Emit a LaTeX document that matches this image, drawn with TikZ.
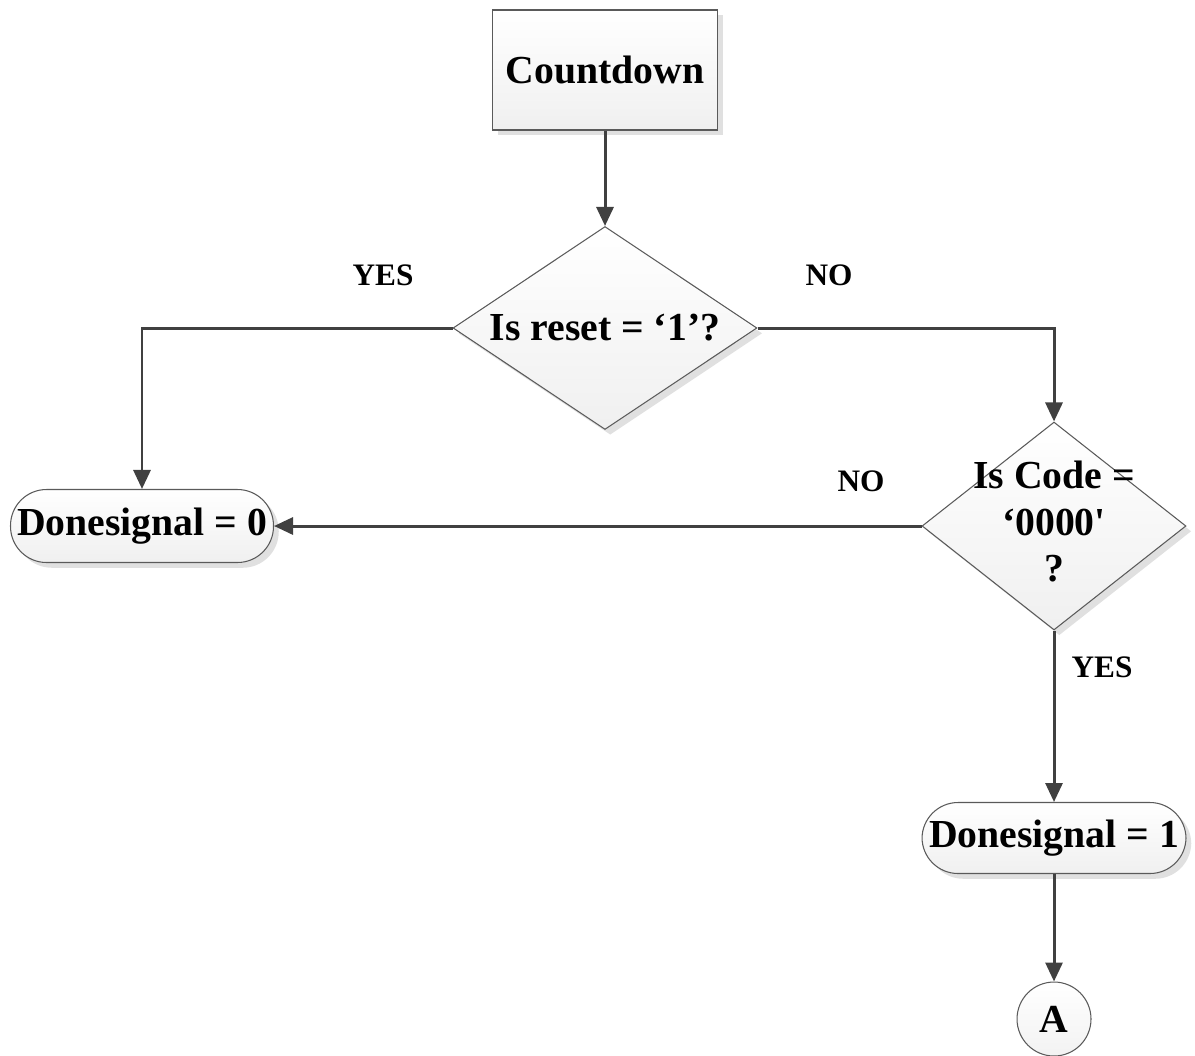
\documentclass[tikz,border=0pt]{standalone}
\usepackage{fontspec}
\setmainfont{Liberation Serif}
\usetikzlibrary{arrows.meta,shapes.geometric,shadows}
\definecolor{linegray}{HTML}{404040}
\definecolor{edgegray}{HTML}{5A5A5A}
\newcommand{\nowidth}[1]{\makebox[0pt]{#1}}
\begin{document}
\begin{tikzpicture}[x=0.02cm,y=-0.02cm,>={Triangle[length=0.38cm,width=0.34cm]},
	flow/.style={draw=linegray,line width=1.7pt,->},
	box/.style={draw=edgegray,line width=0.6pt,top color=white,bottom color=gray!12,inner sep=0pt,
		drop shadow={shadow xshift=3pt,shadow yshift=-3pt,fill=gray!40,opacity=0.6},
		font=\fontsize{22.6}{26.5}\selectfont\bfseries},
	decision/.style={box,diamond},
	terminal/.style={box,rounded corners=0.72cm},
	lbl/.style={font=\fontsize{17.8}{20}\selectfont\bfseries}]
		\useasboundingbox (0,0) rectangle (1195,1055);
		% nodes
		\node[box,minimum width=4.5cm,minimum height=2.4cm] (count) at (605,70) {Countdown};
		\node[decision,minimum width=6.08cm,minimum height=4.06cm] (reset) at (605,328) {\nowidth{Is reset = ‘1’?}};
		\node[decision,minimum width=5.28cm,minimum height=4.16cm] (code) at (1054,526)
			{\nowidth{\begin{tabular}{@{}c@{}}Is Code =\\ ‘0000\textquotesingle\\ ?\end{tabular}}};
		\node[terminal,minimum width=5.26cm,minimum height=1.46cm] (done0) at (142,526) {Donesignal = 0};
		\node[terminal,minimum width=5.28cm,minimum height=1.42cm] (done1) at (1054,838) {Donesignal = 1};
		\node[circle,draw=edgegray,line width=0.6pt,top color=white,bottom color=gray!10,minimum size=1.48cm,inner sep=0pt,
			font=\fontsize{22.6}{26.5}\selectfont\bfseries] (conA) at (1054,1019) {A};
		% labels
		\node[lbl] (yes1) at (383,275) {YES};
		\node[lbl] (no1) at (829,275) {NO};
		\node[lbl] (no2) at (861,481) {NO};
		\node[lbl] (yes2) at (1102,667) {YES};
		% connectors
		\draw[flow] (count) -- (reset);
		\draw[flow] (reset.west) -| (done0);
		\draw[flow] (reset.east) -| (code);
		\draw[flow] (code.west) -- (done0.east);
		\draw[flow] (code) -- (done1);
		\draw[flow] (done1) -- (conA);
	\end{tikzpicture}
\end{document}
